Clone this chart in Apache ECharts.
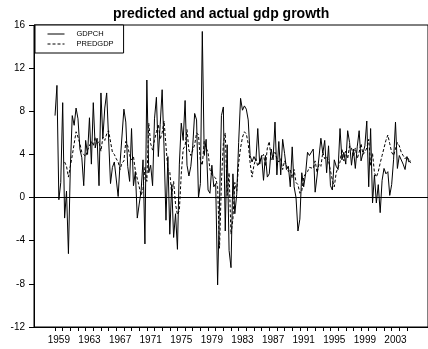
<!DOCTYPE html>
<html>
<head>
<meta charset="utf-8">
<script src="https://cdn.jsdelivr.net/npm/echarts@6/dist/echarts.min.js"></script>
<style>
  html, body { margin: 0; padding: 0; background: #fff; }
  #chart { width: 428px; height: 349px; }
</style>
</head>
<body>
<div id="chart"></div>
<script>
// quarterly, 1959Q1 .. 2005Q3
const startYear = 1959;

const gdpch = [
  7.6, 10.4, -0.2, 1.4,
  8.8, -1.9, 0.6, -5.2,
  2.8, 7.6, 6.7, 8.3,
  7.3, 4.5, 3.7, 1.1,
  5.3, 4.0, 7.4, 3.1,
  8.8, 4.6, 5.5, 1.1,
  9.7, 5.5, 8.3, 9.7,
  9.6, 1.3, 2.8, 3.3,
  3.3, 0.1, 3.2, 3.1,
  8.2, 7.0, 2.9, 1.5,
  6.4, 1.1, 2.4, -1.9,
  -0.6, 0.6, 3.5, -4.3,
  10.9, 2.3, 3.0, 1.1,
  7.3, 9.3, 3.8, 6.8,
  10.0, 4.6, -2.1, 3.8,
  -3.4, 1.2, -3.7, -1.5,
  -4.8, 3.1, 6.9, 5.3,
  9.0, 3.0, 2.0, 2.9,
  4.8, 7.8, 7.2, 0.0,
  1.3, 15.4, 3.9, 5.4,
  0.7, 0.4, 3.0, 1.0,
  1.3, -8.1, -0.5, 7.6,
  8.4, -3.1, 4.9, -4.9,
  -6.5, 2.2, -1.5, 0.3,
  5.1, 9.2, 8.1, 8.5,
  8.2, 7.2, 3.9, 3.3,
  3.8, 3.4, 6.4, 3.1,
  3.9, 1.6, 3.9, 1.9,
  2.2, 4.5, 3.5, 7.0,
  2.1, 5.2, 2.1, 5.4,
  4.1, 2.6, 2.9, 1.0,
  4.7, 1.0, 0.0, -3.1,
  -2.0, 2.3, 1.0, 2.2,
  4.2, 3.9, 4.0, 4.5,
  0.5, 2.0, 2.1, 5.5,
  4.1, 5.3, 2.3, 4.8,
  1.1, 0.7, 3.5, 2.9,
  2.6, 6.4, 3.5, 4.2,
  3.1, 6.2, 5.1, 3.0,
  4.5, 2.7, 4.7, 6.2,
  3.4, 3.4, 4.8, 7.1,
  1.0, 6.4, -0.5, 2.1,
  -0.5, 1.2, -1.4, 1.6,
  2.7, 2.2, 2.4, 0.2,
  1.2, 3.5, 7.0, 2.7,
  3.9, 4.0, 3.1, 2.6,
  3.8, 3.3, 3.4
];

const predgdp = [
  null, null, null, null,
  null, 3.3, 2.9, 1.9,
  2.9, 3.9, 5.0, 6.1,
  5.6, 5.0, 4.2, 4.0,
  3.8, 4.4, 4.5, 5.2,
  4.8, 5.6, 5.0, 5.2,
  4.3, 5.6, 5.3, 5.9,
  6.2, 6.3, 4.2, 4.0,
  3.6, 3.3, 2.6, 3.2,
  3.4, 5.2, 4.8, 3.9,
  3.5, 3.8, 2.5, 2.6,
  1.0, 0.2, 0.8, 2.8,
  1.5, 6.9, 5.0, 4.4,
  5.3, 6.1, 6.8, 5.4,
  6.0, 7.1, 4.8, 2.6,
  2.4, 0.3, 1.5, -0.6,
  -1.6, -1.2, 2.2, 4.5,
  4.8, 6.3, 4.4, 3.9,
  4.0, 4.9, 6.0, 5.8,
  3.4, 3.0, 5.2, 4.6,
  4.2, 2.6, 2.1, 2.0,
  1.8, 1.0, -4.7, 1.5,
  5.0, 6.0, 0.2, 2.3,
  -3.4, -2.0, 1.4, 0.6,
  3.2, 4.6, 5.6, 6.1,
  5.9, 5.0, 3.2, 1.9,
  3.0, 3.6, 2.9, 3.4,
  3.3, 4.0, 2.9, 4.6,
  5.2, 3.5, 3.8, 4.2,
  3.6, 3.3, 3.6, 2.6,
  3.4, 3.0, 2.4, 2.6,
  1.8, 2.6, 1.4, 1.2,
  0.4, 0.6, 1.9, 2.2,
  2.4, 2.8, 2.9, 2.7,
  3.4, 2.3, 3.1, 2.9,
  4.2, 3.6, 3.8, 3.4,
  3.5, 1.6, 1.0, 2.3,
  2.8, 3.3, 4.5, 3.4,
  4.3, 3.6, 4.8, 4.6,
  3.8, 4.6, 3.6, 4.2,
  5.0, 4.0, 4.2, 4.6,
  5.4, 3.0, 4.1, 2.3,
  1.9, 2.4, 3.2, 3.9,
  4.6, 5.3, 5.8, 5.0,
  4.2, 3.9, 4.0, 5.1,
  4.8, 4.2, 3.9, 3.6,
  3.8, 3.5, 3.2
];

const yTicks = [-12, -8, -4, 0, 4, 8, 12, 16];

// empty slots on both sides so the first quarter sits away from the y axis
const padLeft = 11;
const padRight = 9;

const quarters = gdpch.map((_, i) => (startYear + Math.floor(i / 4)) + 'Q' + (i % 4 + 1));
const blanksL = Array(padLeft).fill('');
const blanksR = Array(padRight).fill('');
const categories = blanksL.concat(quarters, blanksR);
const padData = (arr) => blanksL.map(() => null).concat(arr, blanksR.map(() => null));

const font = "'Liberation Sans', Arial, sans-serif";
const chart = echarts.init(document.getElementById('chart'));

chart.setOption({
  animation: false,
  backgroundColor: '#fff',
  textStyle: { fontFamily: font },
  title: {
    text: 'predicted and actual gdp growth',
    left: 113,
    top: 7,
    padding: 0,
    textStyle: { fontSize: 14, fontWeight: 'bold', color: '#000', fontFamily: font }
  },
  legend: {
    orient: 'vertical',
    left: 35,
    top: 25,
    padding: [5, 10, 5, 12],
    itemWidth: 17,
    itemHeight: 8,
    itemGap: 2,
    borderColor: '#000',
    borderWidth: 1,
    backgroundColor: '#fff',
    itemStyle: { opacity: 0 },
    lineStyle: { width: 1 },
    textStyle: { fontSize: 7.5, color: '#000', fontFamily: font, padding: [0, 0, 0, 7] },
    data: ['GDPCH', 'PREDGDP']
  },
  grid: {
    left: 34,
    top: 25,
    width: 395.5,
    height: 302,
    show: true,
    borderColor: '#000',
    borderWidth: 1
  },
  xAxis: {
    type: 'category',
    data: categories,
    boundaryGap: false,
    axisLine: { onZero: false, lineStyle: { color: '#000', width: 1 } },
    axisTick: {
      length: 4,
      lineStyle: { color: '#000', width: 1 },
      interval: (idx) => {
        const k = idx - padLeft;
        return k >= 0 && k < gdpch.length && k % 4 === 0;
      }
    },
    axisLabel: {
      color: '#000',
      fontSize: 10,
      margin: 8,
      interval: (idx) => {
        const k = idx - padLeft - 2;
        return k >= 0 && k < gdpch.length && k % 16 === 0;
      },
      formatter: (v) => v.slice(0, 4)
    },
    splitLine: { show: false }
  },
  yAxis: {
    type: 'value',
    min: yTicks[0],
    max: yTicks[yTicks.length - 1],
    interval: 4,
    axisLine: { show: true, lineStyle: { color: '#000', width: 1 } },
    axisTick: { show: true, length: 5, lineStyle: { color: '#000', width: 1 } },
    axisLabel: { color: '#000', fontSize: 10, margin: 9 },
    splitLine: { show: false }
  },
  series: [
    {
      name: 'GDPCH',
      type: 'line',
      data: padData(gdpch),
      symbol: 'none',
      lineStyle: { color: '#000', width: 1 },
      itemStyle: { color: '#000' },
      markLine: {
        silent: true,
        symbol: 'none',
        label: { show: false },
        lineStyle: { color: '#000', width: 1, type: 'solid' },
        data: [{ yAxis: 0 }]
      }
    },
    {
      name: 'PREDGDP',
      type: 'line',
      data: padData(predgdp),
      symbol: 'none',
      lineStyle: { color: '#000', width: 1, type: [3, 2] },
      itemStyle: { color: '#000' }
    }
  ]
});
</script>
</body>
</html>
